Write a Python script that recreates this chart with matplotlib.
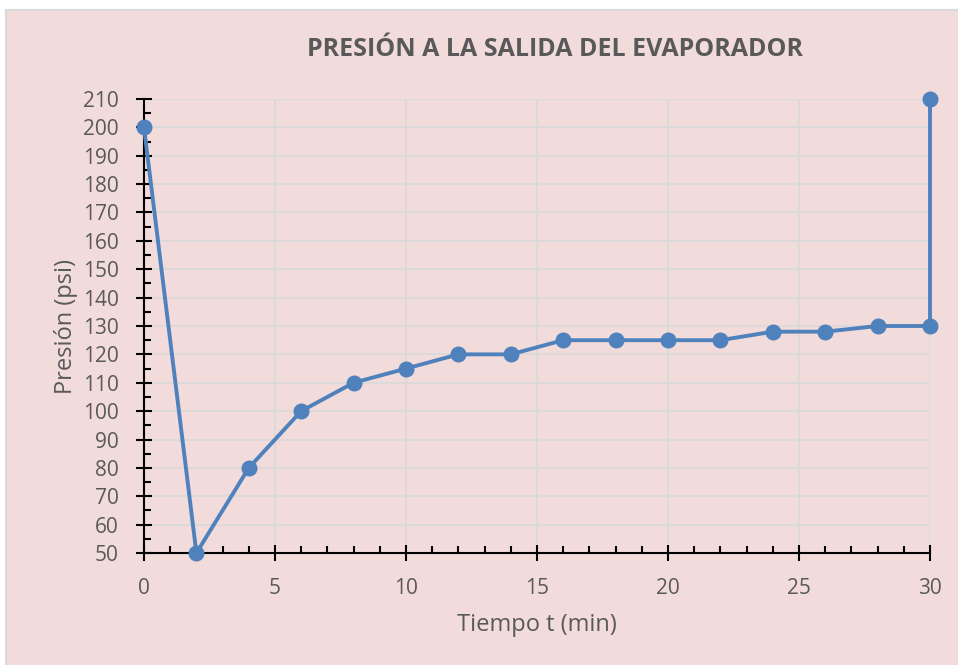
import matplotlib
matplotlib.use("Agg")
import matplotlib.pyplot as plt
from matplotlib.patches import Rectangle
from matplotlib.ticker import MultipleLocator

# Pressure at the evaporator outlet over time
tiempo_min = [0, 2, 4, 6, 8, 10, 12, 14, 16, 18, 20, 22, 24, 26, 28, 30, 30]
presion_psi = [200, 50, 80, 100, 110, 115, 120, 120, 125, 125, 125, 125, 128, 128, 130, 130, 210]

bg = "#F2DCDB"
txt = "#595959"
line_c = "#4F81BD"

plt.rcParams['font.family'] = ['Open Sans', 'DejaVu Sans']

fig = plt.figure(figsize=(9.58, 6.65), dpi=100)
fig.patch.set_facecolor("white")
# chart panel running off the right and bottom edges
fig.patches.append(Rectangle((10 / 958 - 0.004, -0.05), 1.05, 1 - 10 / 665 + 0.05,
                             transform=fig.transFigure, facecolor=bg,
                             edgecolor="#D9D9D9", linewidth=1.5, zorder=-10))

ax = fig.add_axes([144 / 958, 1 - 553 / 665, (930 - 144) / 958, (553 - 99) / 665])
ax.patch.set_visible(False)

ax.plot(tiempo_min, presion_psi, color=line_c, linewidth=2.8, marker="o",
        markersize=10.5, clip_on=False, zorder=5)

ax.set_xlim(0, 30)
ax.set_ylim(50, 210)
ax.xaxis.set_major_locator(MultipleLocator(5))
ax.xaxis.set_minor_locator(MultipleLocator(1))
ax.yaxis.set_major_locator(MultipleLocator(10))
ax.yaxis.set_minor_locator(MultipleLocator(5))

ax.grid(True, which="major", color="#D9D9D9", linewidth=1.2, zorder=0)
ax.set_axisbelow(True)

for s in ["top", "right"]:
    ax.spines[s].set_visible(False)
for s in ["left", "bottom"]:
    ax.spines[s].set_color("black")
    ax.spines[s].set_linewidth(1.5)
    ax.spines[s].set_zorder(3)

ax.tick_params(which="major", direction="inout", length=12, width=1.5,
               color="black", labelcolor=txt, labelsize=15)
ax.tick_params(which="minor", direction="in", length=5, width=1.5, color="black")
ax.tick_params(axis="x", which="major", pad=12)
ax.tick_params(axis="y", which="major", pad=12)

ax.set_xlabel("Tiempo t (min)", color=txt, fontsize=17, labelpad=10)
ax.set_ylabel("Presión (psi)", color=txt, fontsize=17, labelpad=4)

fig.text(555 / 958, 1 - 50 / 665, "PRESIÓN A LA SALIDA DEL EVAPORADOR",
         ha="center", va="center", color=txt, fontsize=18, fontweight="bold")

fig.savefig("out.png", dpi=100, facecolor=fig.get_facecolor())
